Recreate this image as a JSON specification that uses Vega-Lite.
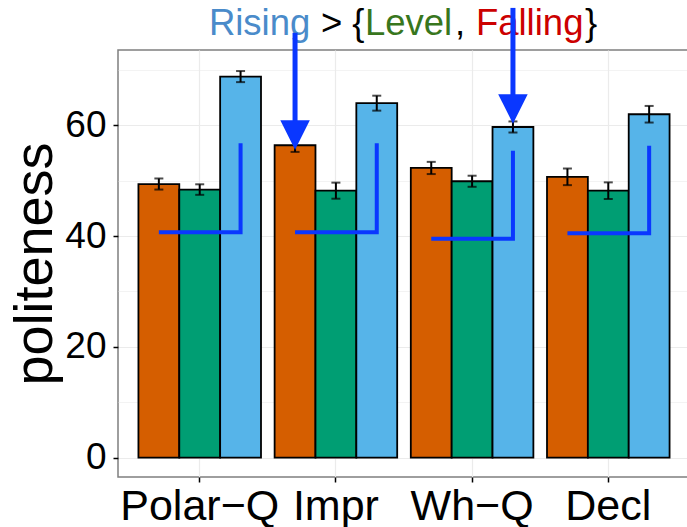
{
  "$schema": "https://vega.github.io/schema/vega-lite/v6.json",
  "width": 572,
  "height": 427,
  "autosize": {"type": "none"},
  "padding": {"left": 118, "top": 50, "right": -3, "bottom": 50},
  "background": "white",
  "config": {
    "view": {"stroke": "#7f7f7f", "strokeWidth": 1.5},
    "font": "Liberation Sans",
    "axis": {
      "domain": false,
      "labelFont": "Liberation Sans",
      "titleFont": "Liberation Sans",
      "labelColor": "black",
      "titleColor": "black",
      "titleFontWeight": "normal",
      "tickColor": "black",
      "tickWidth": 1.5,
      "tickSize": 5,
      "gridColor": "#ebebeb"
    }
  },
  "datasets": {
    "bars": [
      {"group": "Polar−Q", "cond": "Falling", "mean": 49.4, "lo": 48.4, "hi": 50.4},
      {"group": "Polar−Q", "cond": "Level", "mean": 48.4, "lo": 47.45, "hi": 49.35},
      {"group": "Polar−Q", "cond": "Rising", "mean": 68.8, "lo": 67.8, "hi": 69.8},
      {"group": "Impr", "cond": "Falling", "mean": 56.4, "lo": 55.2, "hi": 57.6},
      {"group": "Impr", "cond": "Level", "mean": 48.2, "lo": 46.75, "hi": 49.65},
      {"group": "Impr", "cond": "Rising", "mean": 64.0, "lo": 62.65, "hi": 65.35},
      {"group": "Wh−Q", "cond": "Falling", "mean": 52.3, "lo": 51.2, "hi": 53.4},
      {"group": "Wh−Q", "cond": "Level", "mean": 49.9, "lo": 48.9, "hi": 50.9},
      {"group": "Wh−Q", "cond": "Rising", "mean": 59.7, "lo": 58.7, "hi": 60.7},
      {"group": "Decl", "cond": "Falling", "mean": 50.7, "lo": 49.2, "hi": 52.2},
      {"group": "Decl", "cond": "Level", "mean": 48.2, "lo": 46.7, "hi": 49.7},
      {"group": "Decl", "cond": "Rising", "mean": 62.0, "lo": 60.5, "hi": 63.5}
    ],
    "lshape": [
      {"group": "Polar−Q", "cond": "Falling", "val": 40.7, "step": 0},
      {"group": "Polar−Q", "cond": "Rising", "val": 40.7, "step": 1},
      {"group": "Polar−Q", "cond": "Rising", "val": 56.75, "step": 2},
      {"group": "Impr", "cond": "Falling", "val": 40.7, "step": 0},
      {"group": "Impr", "cond": "Rising", "val": 40.7, "step": 1},
      {"group": "Impr", "cond": "Rising", "val": 56.75, "step": 2},
      {"group": "Wh−Q", "cond": "Falling", "val": 39.5, "step": 0},
      {"group": "Wh−Q", "cond": "Rising", "val": 39.5, "step": 1},
      {"group": "Wh−Q", "cond": "Rising", "val": 55.4, "step": 2},
      {"group": "Decl", "cond": "Falling", "val": 40.5, "step": 0},
      {"group": "Decl", "cond": "Rising", "val": 40.5, "step": 1},
      {"group": "Decl", "cond": "Rising", "val": 56.3, "step": 2}
    ],
    "arrows": [
      {"group": "Impr", "cond": "Falling", "top": 76.7, "head": 58.25},
      {"group": "Wh−Q", "cond": "Rising", "top": 81.2, "head": 62.95}
    ]
  },
  "encoding": {
    "x": {
      "field": "group",
      "type": "nominal",
      "sort": ["Polar−Q", "Impr", "Wh−Q", "Decl"],
      "scale": {"paddingInner": 0.1, "paddingOuter": 0.15},
      "axis": {
        "title": null,
        "labelFontSize": 43,
        "labelPadding": 3,
        "labelAngle": 0,
        "labelOverlap": false,
        "labelBound": false,
        "labelFlush": false,
        "grid": true,
        "gridWidth": 1.2
      }
    },
    "xOffset": {
      "field": "cond",
      "type": "nominal",
      "sort": ["Falling", "Level", "Rising"]
    }
  },
  "layer": [
    {
      "data": {"name": "bars"},
      "mark": {"type": "bar", "stroke": "black", "strokeWidth": 1.8},
      "encoding": {
        "y": {
          "field": "mean",
          "type": "quantitative",
          "scale": {"domain": [-3.5, 73.6], "nice": false},
          "axis": {
            "title": "politeness",
            "titleFontSize": 54,
            "titlePadding": 2,
            "values": [0, 10, 20, 30, 40, 50, 60, 70],
            "labelExpr": "datum.value % 20 === 0 ? datum.label : ''",
            "labelFontSize": 37,
            "labelPadding": 7,
            "tickOpacity": {"condition": {"test": "datum.value % 20 === 0", "value": 1}, "value": 0},
            "gridWidth": {"condition": {"test": "datum.value % 20 === 0", "value": 1.2}, "value": 0.6}
          }
        },
        "y2": {"datum": 0},
        "color": {
          "field": "cond",
          "type": "nominal",
          "scale": {"domain": ["Falling", "Level", "Rising"], "range": ["#D55E00", "#009E73", "#56B4E9"]},
          "legend": null
        }
      }
    },
    {
      "data": {"name": "bars"},
      "mark": {"type": "rule", "color": "black", "strokeWidth": 2},
      "encoding": {
        "y": {"field": "lo", "type": "quantitative"},
        "y2": {"field": "hi"}
      }
    },
    {
      "data": {"name": "bars"},
      "mark": {"type": "tick", "color": "black", "thickness": 2, "size": 9, "orient": "horizontal"},
      "encoding": {"y": {"field": "lo", "type": "quantitative"}}
    },
    {
      "data": {"name": "bars"},
      "mark": {"type": "tick", "color": "black", "thickness": 2, "size": 9, "orient": "horizontal"},
      "encoding": {"y": {"field": "hi", "type": "quantitative"}}
    },
    {
      "data": {"name": "lshape"},
      "mark": {"type": "line", "color": "#0a37ff", "strokeWidth": 4, "strokeJoin": "miter", "strokeCap": "butt"},
      "encoding": {
        "y": {"field": "val", "type": "quantitative"},
        "detail": {"field": "group"},
        "order": {"field": "step", "type": "quantitative"}
      }
    },
    {
      "data": {"values": [{"word": "Rising"}]},
      "mark": {"type": "text", "fontSize": 36.5, "color": "#4a8bca", "align": "left", "baseline": "alphabetic", "dx": -127},
      "encoding": {"text": {"field": "word"}, "x": {"datum": "Impr"}, "y": {"datum": 76.3}, "xOffset": null}
    },
    {
      "data": {"values": [{"word": "> {"}]},
      "mark": {"type": "text", "fontSize": 36.5, "color": "black", "align": "left", "baseline": "alphabetic", "dx": -15},
      "encoding": {"text": {"field": "word"}, "x": {"datum": "Impr"}, "y": {"datum": 76.3}, "xOffset": null}
    },
    {
      "data": {"values": [{"word": "Level"}]},
      "mark": {"type": "text", "fontSize": 36.5, "color": "#38761d", "align": "left", "baseline": "alphabetic", "dx": 29},
      "encoding": {"text": {"field": "word"}, "x": {"datum": "Impr"}, "y": {"datum": 76.3}, "xOffset": null}
    },
    {
      "data": {"values": [{"word": ","}]},
      "mark": {"type": "text", "fontSize": 36.5, "color": "black", "align": "left", "baseline": "alphabetic", "dx": 119},
      "encoding": {"text": {"field": "word"}, "x": {"datum": "Impr"}, "y": {"datum": 76.3}, "xOffset": null}
    },
    {
      "data": {"values": [{"word": "Falling"}]},
      "mark": {"type": "text", "fontSize": 36.5, "color": "#cc0000", "align": "left", "baseline": "alphabetic", "dx": 140},
      "encoding": {"text": {"field": "word"}, "x": {"datum": "Impr"}, "y": {"datum": 76.3}, "xOffset": null}
    },
    {
      "data": {"values": [{"word": "}"}]},
      "mark": {"type": "text", "fontSize": 36.5, "color": "black", "align": "left", "baseline": "alphabetic", "dx": 249},
      "encoding": {"text": {"field": "word"}, "x": {"datum": "Impr"}, "y": {"datum": 76.3}, "xOffset": null}
    },
    {
      "data": {"name": "arrows"},
      "mark": {"type": "rule", "color": "#0a37ff", "strokeWidth": 5, "strokeCap": "butt"},
      "encoding": {
        "y": {"field": "top", "type": "quantitative"},
        "y2": {"field": "head"}
      }
    },
    {
      "data": {"name": "arrows"},
      "mark": {"type": "point", "shape": "M-1,-1L1,-1L0,1Z", "filled": true, "size": 870, "color": "#0a37ff", "opacity": 1},
      "encoding": {
        "y": {"field": "head", "type": "quantitative"}
      }
    }
  ]
}
